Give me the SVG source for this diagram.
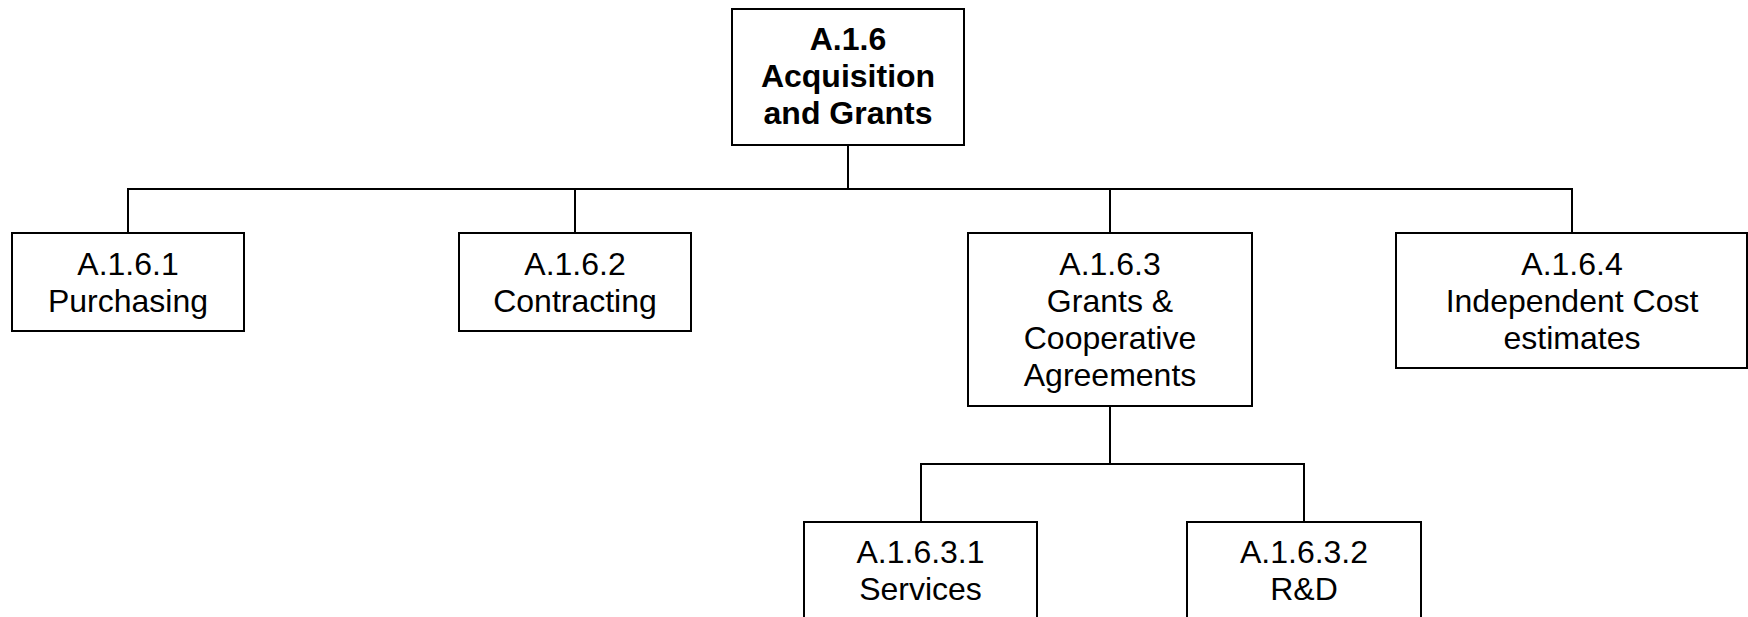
<svg xmlns="http://www.w3.org/2000/svg" width="1748" height="617" viewBox="0 0 1748 617">
<style>
.box{fill:#fff;stroke:#000;stroke-width:2}
.c{fill:none;stroke:#000;stroke-width:2}
text{font-family:"Liberation Sans",Arial,sans-serif;font-size:32px;text-anchor:middle;fill:#000}
.b{font-weight:bold}
</style>
<rect width="1748" height="617" fill="#fff"/>
<g id="connectors">
<path class="c" d="M848,145 V189 M128,233 V189 H1572 V233 M575,189 V233 M1110,189 V233"/>
<path class="c" d="M1110,406 V464 M921,522 V464 H1304 V522"/>
</g>
<g id="n_a16">
<rect class="box" x="732" y="9" width="232" height="136"/>
<text class="b" x="848" y="50">A.1.6</text>
<text class="b" x="848" y="87">Acquisition</text>
<text class="b" x="848" y="124">and Grants</text>
</g>
<g id="n_a161">
<rect class="box" x="12" y="233" width="232" height="98"/>
<text x="128" y="275">A.1.6.1</text>
<text x="128" y="312">Purchasing</text>
</g>
<g id="n_a162">
<rect class="box" x="459" y="233" width="232" height="98"/>
<text x="575" y="275">A.1.6.2</text>
<text x="575" y="312">Contracting</text>
</g>
<g id="n_a163">
<rect class="box" x="968" y="233" width="284" height="173"/>
<text x="1110" y="275">A.1.6.3</text>
<text x="1110" y="312">Grants &amp;</text>
<text x="1110" y="349">Cooperative</text>
<text x="1110" y="386">Agreements</text>
</g>
<g id="n_a164">
<rect class="box" x="1396" y="233" width="351" height="135"/>
<text x="1572" y="275">A.1.6.4</text>
<text x="1572" y="312">Independent Cost</text>
<text x="1572" y="349">estimates</text>
</g>
<g id="n_a1631">
<rect class="box" x="804" y="522" width="233" height="110"/>
<text x="920.5" y="563">A.1.6.3.1</text>
<text x="920.5" y="600">Services</text>
</g>
<g id="n_a1632">
<rect class="box" x="1187" y="522" width="234" height="110"/>
<text x="1304" y="563">A.1.6.3.2</text>
<text x="1304" y="600">R&amp;D</text>
</g>
</svg>
